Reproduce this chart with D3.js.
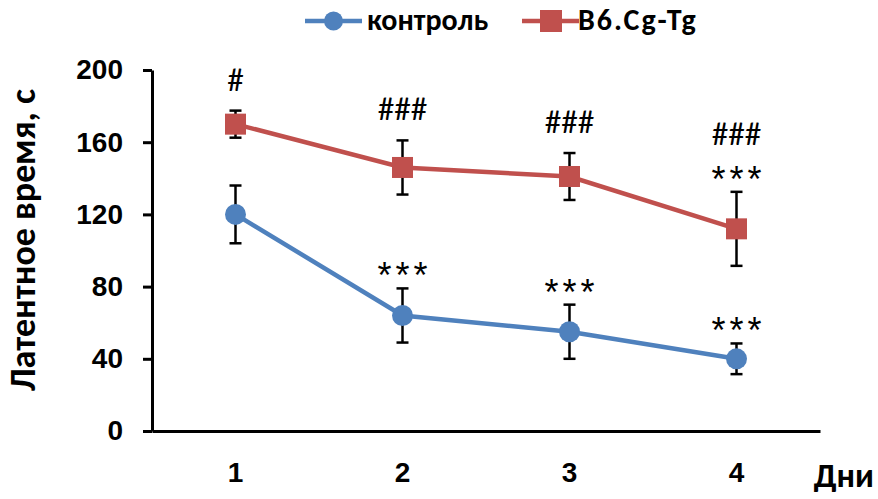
<!DOCTYPE html>
<html>
<head>
<meta charset="utf-8">
<script src="https://cdn.jsdelivr.net/npm/d3@7"></script>
<style>
  body { margin: 0; background: #fff; }
  svg { display: block; font-family: Carlito, Calibri, "Open Sans", sans-serif; }
</style>
</head>
<body>
<div id="chart"></div>
<script>
const days = ['1', '2', '3', '4'];
const seriesNames = ['контроль', 'B6.Cg-Tg'];
const controlMean = [120, 64, 55, 40];
const controlErr  = [16, 15, 15, 8.5];
const tgMean      = [170, 146, 141, 112];
const tgErr       = [7.5, 15, 13, 20.5];
const yTicks      = [0, 40, 80, 120, 160, 200];
const tgMarks      = ['#', '###', '###', '###\n***'];
const controlMarks = ['', '***', '***', '***'];

const W = 878, H = 499;
const padL = 152, padR = 820, padT = 70, padB = 431;
const colors = ['#4F81BD', '#C0504D'];

const svg = d3.select('#chart').append('svg').attr('width', W).attr('height', H);

const x = d3.scaleBand().domain(days).range([padL, padR]);
const y = d3.scaleLinear().domain([0, 200]).range([padB, padT]);
const cx = d => x(d) + x.bandwidth() / 2;

// y axis
const yAxis = svg.append('g').attr('transform', `translate(${padL},0)`)
  .call(d3.axisLeft(y).tickValues(yTicks).tickSize(9).tickSizeOuter(0));
yAxis.select('.domain').attr('stroke', '#000').attr('stroke-width', 3);
yAxis.selectAll('.tick line').attr('stroke', '#000').attr('stroke-width', 3);
yAxis.selectAll('.tick text').attr('x', -29).attr('font-size', 28).attr('font-weight', 'bold')
  .attr('fill', '#000').attr('font-family', 'inherit');

// x axis
const xAxis = svg.append('g').attr('transform', `translate(0,${padB})`)
  .call(d3.axisBottom(x).tickSize(0).tickSizeOuter(0));
xAxis.select('.domain').attr('stroke', '#000').attr('stroke-width', 3);
xAxis.selectAll('.tick text').attr('y', 51).attr('dy', 0).attr('font-size', 28).attr('font-weight', 'bold')
  .attr('fill', '#000').attr('font-family', 'inherit');

// axis titles
svg.append('text')
  .attr('transform', `translate(35,240) rotate(-90)`)
  .attr('text-anchor', 'middle').attr('font-size', 36).attr('font-weight', 'bold')
  .text('Латентное время, с');
svg.append('text').attr('x', 874).attr('y', 487).attr('text-anchor', 'end')
  .attr('font-size', 34).attr('font-weight', 'bold').text('Дни');

const series = [
  { name: seriesNames[0], mean: controlMean, err: controlErr, marks: controlMarks, color: colors[0], shape: 'circle' },
  { name: seriesNames[1], mean: tgMean, err: tgErr, marks: tgMarks, color: colors[1], shape: 'square' }
];

const line = d3.line().x((d, i) => cx(days[i])).y(d => y(d));

series.forEach(s => {
  const g = svg.append('g');
  // error bars
  s.mean.forEach((m, i) => {
    const px = cx(days[i]);
    g.append('line').attr('x1', px).attr('x2', px)
      .attr('y1', y(m + s.err[i])).attr('y2', y(m - s.err[i]))
      .attr('stroke', '#000').attr('stroke-width', 2.5);
    [m + s.err[i], m - s.err[i]].forEach(v => {
      g.append('line').attr('x1', px - 6).attr('x2', px + 6)
        .attr('y1', y(v)).attr('y2', y(v))
        .attr('stroke', '#000').attr('stroke-width', 2.5);
    });
  });
  g.append('path').datum(s.mean).attr('d', line)
    .attr('fill', 'none').attr('stroke', s.color).attr('stroke-width', 4.5);
  s.mean.forEach((m, i) => {
    const px = cx(days[i]);
    if (s.shape === 'circle') {
      g.append('circle').attr('cx', px).attr('cy', y(m)).attr('r', 10.5).attr('fill', s.color);
    } else {
      g.append('rect').attr('x', px - 10.5).attr('y', y(m) - 10.5)
        .attr('width', 21).attr('height', 21).attr('fill', s.color);
    }
  });
});

// significance marks
series.forEach(s => {
  s.marks.forEach((mk, i) => {
    if (!mk) return;
    const lines = mk.split('\n');
    const topY = y(s.mean[i] + s.err[i]);
    let base = topY;
    for (let j = lines.length - 1; j >= 0; j--) {
      const t = lines[j];
      const isStar = t.startsWith('*');
      const by = isStar ? base : base - 20;
      svg.append('text')
        .attr('x', cx(days[i]) + (isStar ? 2 : 0))
        .attr('y', by)
        .attr('text-anchor', 'middle')
        .attr('font-family', isStar ? '"Liberation Sans", Arial, sans-serif' : null)
        .attr('font-size', isStar ? 36 : 33)
        .attr('letter-spacing', isStar ? 4 : 0)
        .text(t);
      base = by - (isStar ? 47 : 40) + 20;
    }
  });
});

// legend
const legend = svg.append('g').attr('transform', 'translate(305,21)');
const legendX = [0, 217];
series.forEach((s, i) => {
  const lg = legend.append('g').attr('transform', `translate(${legendX[i]},0)`);
  lg.append('line').attr('x1', 0).attr('x2', 57).attr('y1', 0).attr('y2', 0)
    .attr('stroke', s.color).attr('stroke-width', 4.5);
  if (s.shape === 'circle') {
    lg.append('circle').attr('cx', 28.5).attr('cy', 0).attr('r', 9.5).attr('fill', s.color);
  } else {
    lg.append('rect').attr('x', 18).attr('y', -11).attr('width', 22).attr('height', 22).attr('fill', s.color);
  }
  lg.append('text').attr('x', i === 0 ? 62 : 56).attr('y', 9).attr('font-size', 30).attr('font-weight', 'bold')
    .attr('letter-spacing', i === 0 ? 0 : 2)
    .text(s.name);
});
</script>
</body>
</html>
